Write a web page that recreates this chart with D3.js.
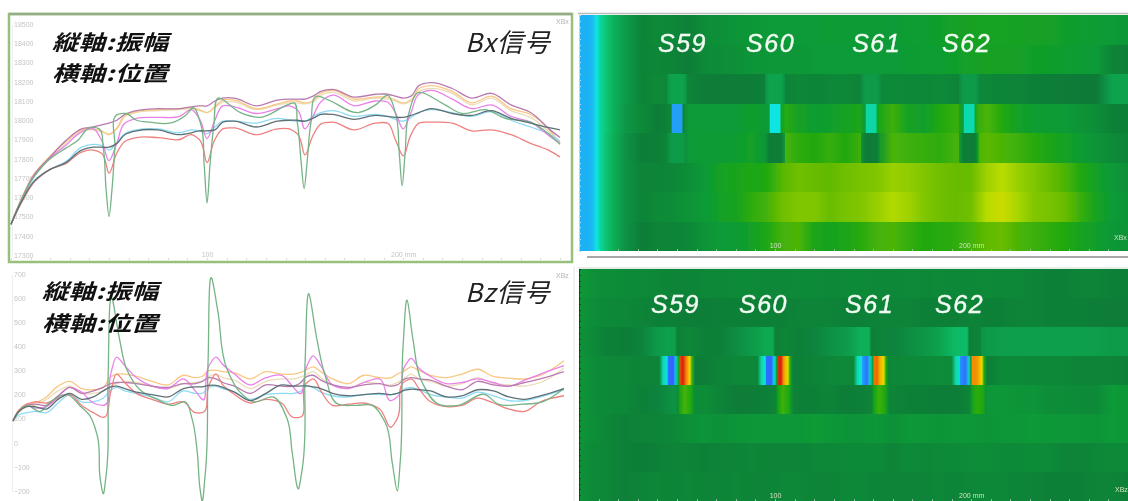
<!DOCTYPE html>
<html>
<head>
<meta charset="utf-8">
<style>
  body { margin: 0; background: #fff; }
  svg { display: block; filter: blur(0.55px); }
  .tick line, .domain { shape-rendering: crispEdges; }
</style>
<script src="https://cdn.jsdelivr.net/npm/d3@7"></script>
</head>
<body>
<div id="chart"></div>
<script>
// Labels
const axisNotes = ["縦軸:振幅", "横軸:位置"];
const sensorLabels = ["S59", "S60", "S61", "S62"];
const bxSensorMm = [40.3, 85.2, 139.3, 185.2];
const bzSensorMm = [36.7, 81.6, 135.7, 181.6];

// Axes
const bxTicks = [18500, 18400, 18300, 18200, 18100, 18000, 17900, 17800, 17700, 17600, 17500, 17400, 17300];
const bzTicks = [700, 600, 500, 400, 300, 200, 100, 0, -100, -200];
const mmTicks = d3.range(0, 281, 10);

// Bx line data (mm positions, then one list per sensor)
const bxMm = [0,5,12,20,28,36,42,46,50,54,58,64,75,86,92,96,100,104,108,114,125,136,142,146,150,154,158,164,175,186,192,196,200,204,208,214,225,235,245,255,265,275,280];
const bxRose = [17460,17580,17720,17810,17895,17955,17965,17975,17985,18000,18030,18050,18060,18060,18070,18075,18075,18100,18115,18115,18075,18105,18110,18110,18110,18125,18150,18160,18120,18135,18135,18125,18115,18125,18180,18195,18165,18115,18140,18080,18040,17950,17910];
const bxOrange = [17460,17585,17725,17815,17890,17950,17955,17945,17925,17960,18025,18045,18055,18060,18065,18055,18040,18070,18105,18105,18060,18085,18100,18100,18090,18100,18140,18155,18110,18120,18120,18105,18090,18105,18165,18180,18150,18090,18125,18060,18030,17945,17875];
const bxTan = [17460,17580,17715,17810,17880,17945,17950,17940,17930,17955,18020,18040,18050,18055,18060,18050,18040,18065,18095,18095,18055,18080,18090,18090,18085,18095,18130,18145,18100,18115,18110,18100,18085,18100,18150,18165,18140,18080,18115,18050,18015,17935,17890];
const bxMagenta = [17460,17580,17715,17805,17870,17940,17955,17900,17790,17880,17985,18010,18015,18020,18055,18010,17905,18000,18075,18070,18035,18060,18075,18055,17955,18020,18095,18130,18075,18100,18095,18040,17955,18040,18135,18155,18110,18060,18080,18020,17990,17915,17880];
const bxCyan = [17460,17570,17690,17745,17785,17860,17875,17870,17845,17885,17930,17950,17955,17935,17950,17945,17930,17965,17995,17995,17985,18010,18000,17995,17995,18020,18040,18050,18020,18030,18020,18005,17995,18015,18040,18055,18040,18020,18045,18000,17965,17925,17890];
const bxGray = [17460,17570,17685,17745,17780,17845,17860,17860,17860,17880,17925,17945,17950,17925,17935,17945,17945,17950,17990,17995,17965,17995,18000,18000,17995,18010,18030,18030,18005,18025,18020,18015,18015,18025,18040,18060,18035,18025,18050,18010,17985,17960,17950];
const bxRed = [17460,17565,17680,17745,17775,17835,17845,17830,17725,17830,17890,17910,17910,17900,17925,17900,17780,17900,17955,17960,17925,17955,17955,17930,17820,17920,17980,17990,17950,17985,17985,17900,17815,17925,17985,17990,17985,17945,17950,17925,17880,17840,17810];
const bxGreenMm = [0,12,20,28,34,40,45,47,48.5,50,51.5,53,54.5,58.7,64,71,81,89,93,96.5,98.5,100,101.5,103.5,105.6,117,127,141,144,146,148,149.5,151,153,156,162,177,186,192,196,198,199.5,201,203,207,221.4,230,242,252,265,279,280];
const bxGreen = [17460,17710,17800,17855,17895,17960,17955,17860,17640,17500,17640,17860,18030,18035,18000,17990,17985,18025,18065,17990,17770,17570,17770,17980,18115,18040,18015,18080,18090,17990,17780,17645,17780,17990,18125,18105,18040,18080,18130,18040,17830,17660,17830,18040,18140,18080,18035,18055,18010,17990,17885,17875];

// Bz line data
const bzMm = [1,4,8,12,18,24,30,36,42,47,51,54,58,64,72,80,88,94,97.5,101,104.5,108,114,122,130,138,144,147,151,154,158,164,172,180,188,194,197,201,204,208,214,222,230,238,246,254,262,270,282];
const bzOrange = [90,135,160,165,190,235,255,225,220,230,275,285,285,275,255,240,280,270,275,300,300,295,290,265,295,285,285,290,305,315,295,265,245,280,270,270,285,300,315,300,280,270,285,305,275,268,265,280,340];
const bzMagenta = [90,130,155,145,150,190,230,210,165,155,290,355,320,270,235,225,265,215,180,320,355,325,285,240,270,280,230,205,320,360,320,240,225,250,265,175,190,320,350,310,275,245,250,265,250,235,260,285,320];
const bzRose = [90,130,155,160,155,195,230,205,215,230,245,250,250,245,235,230,245,245,255,270,265,250,235,205,240,235,235,245,275,280,260,240,230,240,245,235,240,265,270,265,260,235,220,255,240,235,250,265,295];
const bzTan = [90,130,150,155,180,215,235,205,205,215,235,245,255,250,235,225,245,250,255,275,285,270,260,225,255,265,265,270,285,295,270,240,225,250,245,240,250,270,285,265,255,235,245,270,245,240,235,250,310];
const bzCyan = [90,115,125,130,125,165,200,170,170,185,220,230,215,205,190,170,215,205,205,230,235,225,210,180,200,205,205,210,235,230,210,195,190,200,200,200,205,225,230,220,200,190,185,210,195,175,175,190,220];
const bzGray = [90,130,150,150,140,180,205,180,190,215,232,235,225,210,200,190,225,232,232,238,238,230,210,175,205,240,235,235,236,232,225,205,195,200,205,200,205,218,222,220,215,190,195,220,215,190,180,195,225];
const bzRed = [90,135,160,170,165,185,200,155,125,105,215,285,250,205,180,160,170,125,125,240,285,240,200,165,180,165,105,105,250,265,215,155,160,165,140,65,100,255,265,225,170,150,155,185,165,140,130,170,195];
const bzGreenMm = [1,8,15,20,29,35,40,44,45.5,47,48.5,49.5,51.5,55.6,59,66,74.5,82.6,88.8,92.3,95,96.4,97.4,99,100.5,102.5,105.6,110.2,116.8,123.5,133.7,140.8,143.4,146.7,148.5,150,152,156,160.2,166.8,175.5,184.2,190.8,194.4,197,198.5,200,202,205,209.7,217.9,228,241.8,248.5,260.7,271,282];
const bzGreen = [90,155,130,170,200,155,115,30,-150,-212,-135,265,600,420,305,218,180,155,170,100,-40,-190,-240,-135,335,680,540,305,210,170,190,100,-40,-190,-110,335,617,430,280,160,155,155,85,-80,-200,-80,405,592,430,250,160,155,200,160,160,170,225];

// Heat map columns, shared by both maps (value units of the colour scale)
const heatMm = [0,4,7,9,11,14,18,24,32,40,48,56,64,72,80,88,96,104,112,120,128,136,144,152,160,168,176,184,192,200,208,216,224,232,240,248,256,264,272,280];

const bxRow1 = [-4,-4,-3.8,-3,-2.3,-1.8,-1.2,-.7,.3,.5,.4,.2,.6,.7,.8,.9,1,1,1,1,1.1,1.1,1.1,1.1,1,1.2,1.2,1.3,1.4,1.5,1.6,1.6,1.5,1.4,1.4,1.3,1.2,1.1,1,.9];
const bxRow2 = [-4,-4,-3.8,-3,-2.3,-1.8,-1.2,-.7,.3,.4,.3,.1,.5,.6,.7,.8,.9,.9,.9,1,1,1,1,1,1,1.1,1.2,1.2,1.3,1.4,1.5,1.5,1.4,1.3,1.3,1.2,1.1,1,.3,.2];
const bxRow3 = [-4,-4,-3.8,-3,-2.3,-1.8,-1.2,-.7,.3,.5,.3,.3,.1,.1,.1,.1,.2,.3,.4,.3,.4,.4,.3,.5,.5,.4,.4,.5,.3,.4,.4,.3,.3,.2,.1,.1,0,0,-.9,-.9];
const bxRow4 = [-4,-4,-3.8,-3,-2.3,-1.8,-1.2,-.6,.5,.1,.3,1,1,1,1,1.3,1,2.2,1.5,1.2,1.3,1.5,1.8,1.6,2.4,1.5,1.3,2,2.3,2,2.6,2,1.4,1.2,1.1,1,.8,.6,.2,.2];
const bxRow5 = [-4,-4,-3.8,-3,-2.3,-1.7,-1.1,-.5,.1,.2,.5,1,1.1,1.1,1.2,1.4,.8,2.6,2.2,2,2.3,2,2.4,.6,2.6,2.4,2.3,2.2,2.5,2.4,2.8,2.6,2.4,2.1,1.8,1.5,1.1,.8,.5,.3];
const bxRow6 = [-4,-4,-3.8,-3,-2.3,-1.7,-1.1,-.5,.3,.3,.4,.6,1,1.5,1.7,1.9,2,2.8,3.1,3,2.9,3.1,3.2,3.3,3.6,3.5,3.3,3.1,3,3,3.7,4,3.6,3.3,3,2.6,2,1.4,1,.7];
const bxRow7 = [-4,-4,-3.8,-3,-2.3,-1.7,-1.1,-.5,.3,.5,.6,.8,1,1.4,1.6,2.2,2.5,3.1,3.3,3.3,3,3.2,3.3,3.6,3.9,3.7,3.3,3.1,3,3.1,4,4.3,3.8,3.3,3.2,3,2.3,1.6,1,.8];
const bxRow8 = [-4,-4,-3.8,-3,-2.3,-1.7,-1.1,-.5,.1,.3,.3,.4,.8,1,1.1,1.4,1.9,2.5,2.6,1.8,1.6,1.8,2.1,2.5,2.6,2.3,2,2.1,2.2,2.5,2.9,3,2.6,2.4,2.2,2,1.6,1.3,.9,.8];

const bzRow1 = [1,.8,.7,.7,.6,.6,.6,.5,.5,.4,.3,.3,.4,.4,.5,.5,.4,.4,.5,.5,.4,.5,.5,.4,.4,.5,.4,.5,.4,.4,.5,.4,.4,.3,.2,.2,.3,.3,.2,.2];
const bzRow2 = [.9,.7,.6,.6,.5,.5,.4,.4,.3,.2,.2,.1,.1,.2,.2,.2,.2,.2,.3,.3,.3,.2,.2,.3,.3,.3,.2,.2,.2,.3,.2,.2,.3,.3,.2,.2,.2,.1,.1,.1];
const bzRow3 = [.8,.6,.5,.4,.3,.2,.2,.1,-.2,-.7,-.8,.4,.2,.2,-.4,-.7,-1,.4,.2,-.2,-.5,-.7,-1.2,.3,-.2,-.4,-.6,-.9,-1.5,.3,-.7,-.8,-.8,-.8,-.8,-.8,-.8,-.8,-.7,-.7];
const bzRow4 = [.9,.7,.6,.5,.5,.5,.4,.4,.3,.3,.3,.1,.1,.3,.4,.4,.4,.1,.2,.3,.4,.5,.4,.2,.4,.5,.5,.6,.5,.2,.1,.5,.5,.4,.4,.4,.3,.3,.3,.2];
const bzRow5 = [.9,.7,.6,.5,.5,.5,.4,.4,.2,-.2,-.5,.5,.6,.3,.1,.1,.2,.4,.2,.2,.3,.1,.2,.3,.3,.2,.2,.1,.1,.3,.9,.9,.8,.8,.6,.6,.5,.5,1,.9];
const bzRow6 = [.9,.7,.6,.6,.5,.4,.3,.2,.3,.3,.4,.7,.8,.7,.8,.9,.9,.9,.9,1.1,.9,.8,.8,.9,.7,.9,.9,.8,.9,.9,.8,.9,.9,1,.9,.9,.9,.8,1,.9];
const bzRow7 = [.8,.6,.5,.5,.4,.4,.3,.2,.1,.2,.3,.3,.2,.3,.3,.4,.3,.3,.3,.4,.4,.5,.5,.5,.3,.5,.4,.5,.5,.6,.6,.5,.5,.6,.5,.3,.3,.4,.5,.5];
const bzRow8 = [.8,.6,.5,.5,.4,.4,.3,.2,.3,.4,.3,.4,.3,.3,.4,.3,.3,.4,.4,.3,.3,.4,.4,.3,.3,.3,.3,.4,.3,.4,.4,.4,.3,.3,.2,.2,.2,.3,.3,.2];

// Narrow bands over each sensor, given as mm offsets from the sensor and values per sensor
const sensorMm = [50, 100, 149, 199];
const bxBandOffsets = [-5, -3, -2.5, 2.5, 3, 5];
const bxBand3 = [[-.5,-.9,-.9,-.9,-.9,-.5], [-.5,-.9,-.9,-.9,-.9,-.5], [-.4,-.7,-.7,-.7,-.7,-.4], [-.4,-.7,-.7,-.7,-.7,-.4]];
const bxBand4 = [[.3,.3,-4.2,-4.2,.3,.8], [1,1,-3,-3,1.5,2], [1.5,1,-2.4,-2.4,1.5,2], [1.5,1.2,-2.5,-2.5,1.5,2.4]];
const bxBand5 = [[.5,-.7,-.7,-.7,-.7,.6], [.8,.1,.1,.1,.1,1], [.8,.1,.1,.1,.1,1.5], [1.2,.1,.1,.1,.1,2]];
const bzBand3Offsets = [-6, -1, 0, 6];
const bzBand3 = [[-.8,-.8,.2,.4], [-1,-1,.2,.4], [-1.2,-1.2,.2,.3], [-1.5,-1.5,.2,.3]];
const bzBand4Offsets = [-9, -7, -5, -4.5, -2, -1, 0, .8, 1.5, 3, 4.5, 6.5, 7.5, 9];
const bzBand4 = [
  [.4,-2.6,-3.2,-4.8,-5,-4,-2,1.5,6.5,7,6,5,2.5,.3],
  [.4,-2.4,-3,-4.8,-5,-4,-2.5,1,6.8,7,5.6,4.8,2.2,.3],
  [.4,-2.5,-3,-4.2,-4.8,-3.8,-2,1,6,6.2,5.4,4.8,2,.3],
  [.4,-2.4,-2.8,-4.4,-4.8,-4.2,-2.5,.8,5.8,5.8,5.6,5,2,.3]
];
const bzBand5Offsets = [0, 2, 4, 7, 9];
const bzBand5 = [[.4,2.1,2.5,2,.6], [.2,2,2.4,1.9,.5], [.3,2,2.4,2,.5], [.3,1.8,2.2,1.9,.6]];

const width = 1128, height = 501;
const svg = d3.select("#chart").append("svg").attr("width", width).attr("height", height);
const defs = svg.append("defs");

// Soft sideways smear of the maps, rows stay sharp
defs.append("filter").attr("id", "smear")
  .attr("filterUnits", "userSpaceOnUse")
  .attr("x", 560).attr("y", 0).attr("width", 600).attr("height", height)
  .append("feGaussianBlur").attr("stdDeviation", "0.7 0");

const xLine = d3.scaleLinear().domain([0, 280]).range([11, 560]);
const xHeat = d3.scaleLinear().domain([0, 280]).range([579, 1128]);
const yBx = d3.scaleLinear().domain([17300, 18500]).range([255, 24]);
const yBz = d3.scaleLinear().domain([-200, 700]).range([491, 274]);

const heatColor = d3.scaleLinear()
  .domain([-5, -4, -3, -2, -1, 0, 1, 2, 3, 4, 5, 6, 7])
  .range(["#2f62ff", "#1fb0f5", "#10e6e0", "#08cc7c", "#08a850", "#087a38", "#0a9a38", "#20a810", "#68bc00", "#b8dc00", "#f4d800", "#f07a00", "#d81e10"]);

let gradientCount = 0;
const addGradient = (mm, values, scale) => {
  const id = `heat${gradientCount++}`;
  const first = mm[0], last = mm[mm.length - 1];
  const gradient = defs.append("linearGradient")
    .attr("id", id)
    .attr("gradientUnits", "userSpaceOnUse")
    .attr("x1", scale(first)).attr("x2", scale(last))
    .attr("y1", 0).attr("y2", 0);
  values.forEach((v, i) => {
    gradient.append("stop")
      .attr("offset", (mm[i] - first) / (last - first))
      .attr("stop-color", heatColor(v));
  });
  return `url(#${id})`;
};

const drawLines = (g, x, y, sensors) => {
  const line = d3.line().curve(d3.curveCatmullRom.alpha(1));
  sensors.forEach(s => {
    g.append("path")
      .attr("d", line(s.mm.map((m, i) => [x(m), y(s.values[i])])))
      .attr("fill", "none")
      .attr("stroke", s.color)
      .attr("stroke-width", 1.3);
  });
};

const drawHeat = (rows, top, bottom) => {
  const rowScale = d3.scaleBand().domain(d3.range(rows.length)).range([top, bottom]);
  const g = svg.append("g").attr("filter", "url(#smear)");
  rows.forEach((row, i) => {
    g.append("rect")
      .attr("x", xHeat(0)).attr("width", xHeat(280) + 8 - xHeat(0))
      .attr("y", rowScale(i)).attr("height", rowScale.bandwidth())
      .attr("shape-rendering", "crispEdges")
      .attr("fill", addGradient(heatMm, row, xHeat));
  });
  return { g, rowScale };
};

const drawBands = (heat, rowIndex, offsets, bands) => {
  bands.forEach((values, i) => {
    const mm = offsets.map(o => sensorMm[i] + o);
    heat.g.append("rect")
      .attr("x", xHeat(mm[0])).attr("width", xHeat(mm[mm.length - 1]) - xHeat(mm[0]))
      .attr("y", heat.rowScale(rowIndex)).attr("height", heat.rowScale.bandwidth())
      .attr("shape-rendering", "crispEdges")
      .attr("fill", addGradient(mm, values, xHeat));
  });
};

const tickFormat = d => d === 100 ? "100" : d === 200 ? "200 mm" : "";

const styleAxis = (axis, color, lineColor) => {
  axis.selectAll("text").attr("fill", color).style("font", "7px 'Liberation Sans', sans-serif");
  axis.selectAll("line").attr("stroke", lineColor);
};

// ---- left panels ----
const drawYAxis = (scale, ticks) => {
  const axis = svg.append("g").attr("transform", "translate(12,0)")
    .call(d3.axisRight(scale).tickValues(ticks).tickSize(0).tickPadding(2).tickFormat(d3.format("d")));
  axis.select(".domain").attr("stroke", "#eeeeee");
  styleAxis(axis, "#c2c6c2", "#e0e0e0");
};
drawYAxis(yBx, bxTicks);
drawYAxis(yBz, bzTicks);

const bxAxis = svg.append("g").attr("transform", "translate(0,260)")
  .call(d3.axisTop(xLine).tickValues(mmTicks).tickSize(2).tickPadding(1).tickFormat(tickFormat));
bxAxis.select(".domain").remove();
styleAxis(bxAxis, "#c2c6c2", "#d4dccc");

drawLines(svg.append("g"), xLine, yBx, [
  { mm: bxMm, values: bxTan, color: "#eadcb8" },
  { mm: bxMm, values: bxOrange, color: "#f8c884" },
  { mm: bxMm, values: bxCyan, color: "#8edcf4" },
  { mm: bxMm, values: bxMagenta, color: "#ea80ea" },
  { mm: bxMm, values: bxRose, color: "#b87ab0" },
  { mm: bxMm, values: bxRed, color: "#ee8080" },
  { mm: bxGreenMm, values: bxGreen, color: "#76b486" },
  { mm: bxMm, values: bxGray, color: "#5e7076" }
]);
drawLines(svg.append("g"), xLine, yBz, [
  { mm: bzMm, values: bzTan, color: "#eadcb8" },
  { mm: bzMm, values: bzOrange, color: "#f8c884" },
  { mm: bzMm, values: bzCyan, color: "#8edcf4" },
  { mm: bzMm, values: bzMagenta, color: "#ea80ea" },
  { mm: bzMm, values: bzRose, color: "#b87ab0" },
  { mm: bzMm, values: bzRed, color: "#ee8080" },
  { mm: bzGreenMm, values: bzGreen, color: "#76b486" },
  { mm: bzMm, values: bzGray, color: "#5e7076" }
]);

// Bx panel frame, Bz panel edges
svg.append("rect").attr("x", 9).attr("y", 14).attr("width", 563).attr("height", 248)
  .attr("fill", "none").attr("stroke", "#96c07c").attr("stroke-width", 2.5);
svg.append("line").attr("x1", 9).attr("x2", 572).attr("y1", 14).attr("y2", 14)
  .attr("stroke", "#94ad85").attr("stroke-width", 2.5);
svg.append("line").attr("x1", 574).attr("x2", 574).attr("y1", 266).attr("y2", height)
  .attr("stroke", "#e6e6e6");

// ---- heat maps ----
const bxHeat = drawHeat([bxRow1, bxRow2, bxRow3, bxRow4, bxRow5, bxRow6, bxRow7, bxRow8], 15, 251);
drawBands(bxHeat, 2, bxBandOffsets, bxBand3);
drawBands(bxHeat, 3, bxBandOffsets, bxBand4);
drawBands(bxHeat, 4, bxBandOffsets, bxBand5);

const bzHeat = drawHeat([bzRow1, bzRow2, bzRow3, bzRow4, bzRow5, bzRow6, bzRow7, bzRow8], 269, 501);
drawBands(bzHeat, 2, bzBand3Offsets, bzBand3);
drawBands(bzHeat, 3, bzBand4Offsets, bzBand4);
drawBands(bzHeat, 4, bzBand5Offsets, bzBand5);

const drawHeatAxes = (heat, axisY, stripColor, labelColor, tickColor) => {
  const bottom = svg.append("g").attr("transform", `translate(0,${axisY})`)
    .call(d3.axisTop(xHeat).tickValues(mmTicks).tickSize(2).tickPadding(1).tickFormat(tickFormat));
  bottom.select(".domain").remove();
  styleAxis(bottom, labelColor, tickColor);
  const left = svg.append("g").attr("transform", "translate(579,0)")
    .call(d3.axisRight(d3.scaleLinear().domain([0, 40]).range(heat.rowScale.range()))
      .tickValues(d3.range(0, 41)).tickSize(2).tickFormat(""));
  left.select(".domain").attr("stroke", stripColor);
  left.selectAll("line").attr("stroke", stripColor);
};
drawHeatAxes(bxHeat, 251, "#b8d8e8", "#cfe0c0", "#8fbf90");
drawHeatAxes(bzHeat, 501, "#20402a", "#cfe0c0", "#8fc0a0");

// Rules round the maps
svg.append("line").attr("x1", 578).attr("x2", width).attr("y1", 13.5).attr("y2", 13.5)
  .attr("stroke", "#b8bcb8").attr("stroke-width", 1.5);
svg.append("line").attr("x1", 587).attr("x2", width).attr("y1", 257).attr("y2", 257)
  .attr("stroke", "#a8a8a8").attr("stroke-width", 2);
svg.append("line").attr("x1", 578).attr("x2", width).attr("y1", 268).attr("y2", 268)
  .attr("stroke", "#dde4dd").attr("stroke-width", 1.5);

// ---- annotations ----
const noteFont = "'Noto Sans CJK JP', sans-serif";
const drawNotes = (x, y0, y1, signal, signalY) => {
  // the capture stretches these notes sideways
  svg.selectAll(null).data(axisNotes).join("text")
    .attr("transform", (d, i) => `translate(${x},${i === 0 ? y0 : y1}) scale(1.25,1)`)
    .attr("fill", "#111")
    .attr("letter-spacing", 0.5)
    .style("font", `italic 700 21px ${noteFont}`)
    .text(d => d);
  svg.append("text").attr("x", 465).attr("y", signalY)
    .attr("fill", "#222").attr("letter-spacing", 1)
    .style("font", `italic 400 26px ${noteFont}`)
    .text(signal);
};
drawNotes(52, 50, 81, "Bx信号", 52);
drawNotes(42, 299, 331, "Bz信号", 302);

const drawSensorLabels = (mm, y) => {
  svg.selectAll(null).data(sensorLabels).join("text")
    .attr("x", (d, i) => xHeat(mm[i]))
    .attr("y", y)
    .attr("fill", "#f2fbf2")
    .attr("stroke", "#f2fbf2")
    .attr("stroke-width", 0.4)
    .attr("letter-spacing", 1.5)
    .style("font", "italic 400 25px 'Liberation Sans', sans-serif")
    .text(d => d);
};
drawSensorLabels(bxSensorMm, 52);
drawSensorLabels(bzSensorMm, 313);

// Small channel names
const tinyLabels = [["XBx", 556, 24, "#b4b4b4"], ["XBz", 556, 278, "#b4b4b4"], ["XBx", 1114, 240, "#cfe0c0"], ["XBz", 1115, 492, "#cfe0c0"]];
svg.selectAll(null).data(tinyLabels).join("text")
  .attr("x", d => d[1]).attr("y", d => d[2]).attr("fill", d => d[3])
  .style("font", "7px 'Liberation Sans', sans-serif")
  .text(d => d[0]);
</script>
</body>
</html>
